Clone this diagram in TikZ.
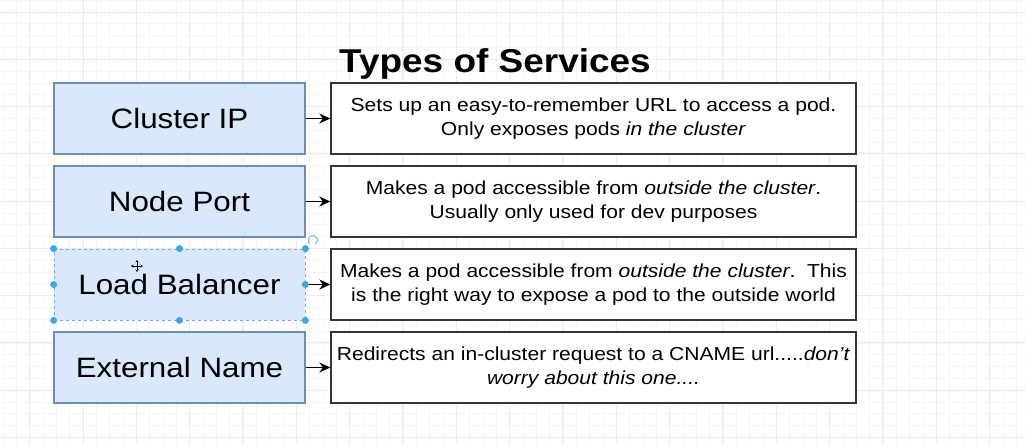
\documentclass[tikz,border=0pt]{standalone}
\usepackage{fontspec}
\setmainfont{Liberation Sans}[FakeStretch=1.12]
\usetikzlibrary{arrows.meta}
\definecolor{gminor}{HTML}{F5F5F5}
\definecolor{gmajor}{HTML}{EBEBEB}
\definecolor{typefill}{HTML}{DAE8FC}
\definecolor{typeline}{HTML}{6C8EBF}
\definecolor{descline}{HTML}{363636}
\definecolor{handle}{HTML}{3AA6EC}
\tikzset{
  typebox/.style={draw=typeline, fill=typefill, line width=1.3pt, minimum width=251pt, minimum height=71pt, inner sep=0pt, font=\fontsize{28}{32}\selectfont},
  descbox/.style={draw=descline, fill=white, line width=1.4pt, minimum width=525pt, minimum height=71pt, inner sep=0pt, align=center, font=\fontsize{18.8}{23.5}\selectfont},
  link/.style={-{Stealth[length=11pt,width=10pt]}, line width=1.2pt, black},
  hdot/.style={circle, fill=handle, inner sep=0pt, minimum size=7pt},
}
\begin{document}
\begin{tikzpicture}[x=1pt,y=-1pt]
\useasboundingbox (0,0) rectangle (1025,445);
\fill[white] (0,0) rectangle (1025,445);
% grid
\foreach \i in {0,...,77} { \draw[gminor, line width=0.8pt] ({3+13.333*\i},0) -- ++(0,445); }
\foreach \j in {0,...,38} { \draw[gminor, line width=0.8pt] (0,{0.18+11.82*\j}) -- ++(1025,0); }
\foreach \i in {0,...,19} { \draw[gmajor, line width=1pt] ({29.67+53.33*\i},0) -- ++(0,445); }
\foreach \j in {0,...,9} { \draw[gmajor, line width=1pt] (0,{12+47.28*\j}) -- ++(1025,0); }
% title
\node[font=\bfseries\fontsize{33}{36}\selectfont, anchor=base, inner sep=0pt] (title) at (495,72) {Types of Services};
% type boxes
\node[typebox] (t1) at (179.5,118.5) {Cluster IP};
\node[typebox] (t2) at (179.5,201.5) {Node Port};
\node[typebox, draw=typeline!80, dashed, line width=0.8pt] (t3) at (179.5,284.5) {Load Balancer};
\node[typebox] (t4) at (179.5,367.5) {External Name};
% description boxes
\node[descbox] (d1) at (593.5,118.5) {Sets up an easy-to-remember URL to access a pod.\\ Only exposes pods \textit{in the cluster}};
\node[descbox] (d2) at (593.5,201.5) {Makes a pod accessible from \textit{outside the cluster}.\\ Usually only used for dev purposes};
\node[descbox] (d3) at (593.5,284.5) {Makes a pod accessible from \textit{outside the cluster}.\ \ This\\ is the right way to expose a pod to the outside world};
\node[descbox] (d4) at (593.5,367.5) {Redirects an in-cluster request to a CNAME url.....\textit{don{\char"27}t}\\ \textit{worry about this one....}};
% connectors
\draw[link] (t1.east) -- (d1.west);
\draw[link] (t2.east) -- (d2.west);
\draw[link] (t3.east) -- (d3.west);
\draw[link] (t4.east) -- (d4.west);
% selection handles
\foreach \a in {north west,north,north east,west,east,south west,south,south east} { \node[hdot] at (t3.\a) {}; }
\coordinate (rot) at (313,240);
\draw[handle!70, line width=1.2pt, -{Stealth[length=3pt,width=3pt]}] ([shift={(60:4.5)}]rot) arc[start angle=60, end angle=-230, radius=4.5];
% move cursor
\coordinate (cur) at (137,266);
\foreach \d in {(0,-6),(0,6),(-6,0),(6,0)} { \draw[black, line width=0.9pt, -{Stealth[length=2.5pt,width=3pt]}] (cur) -- ++\d; }
\end{tikzpicture}
\end{document}
